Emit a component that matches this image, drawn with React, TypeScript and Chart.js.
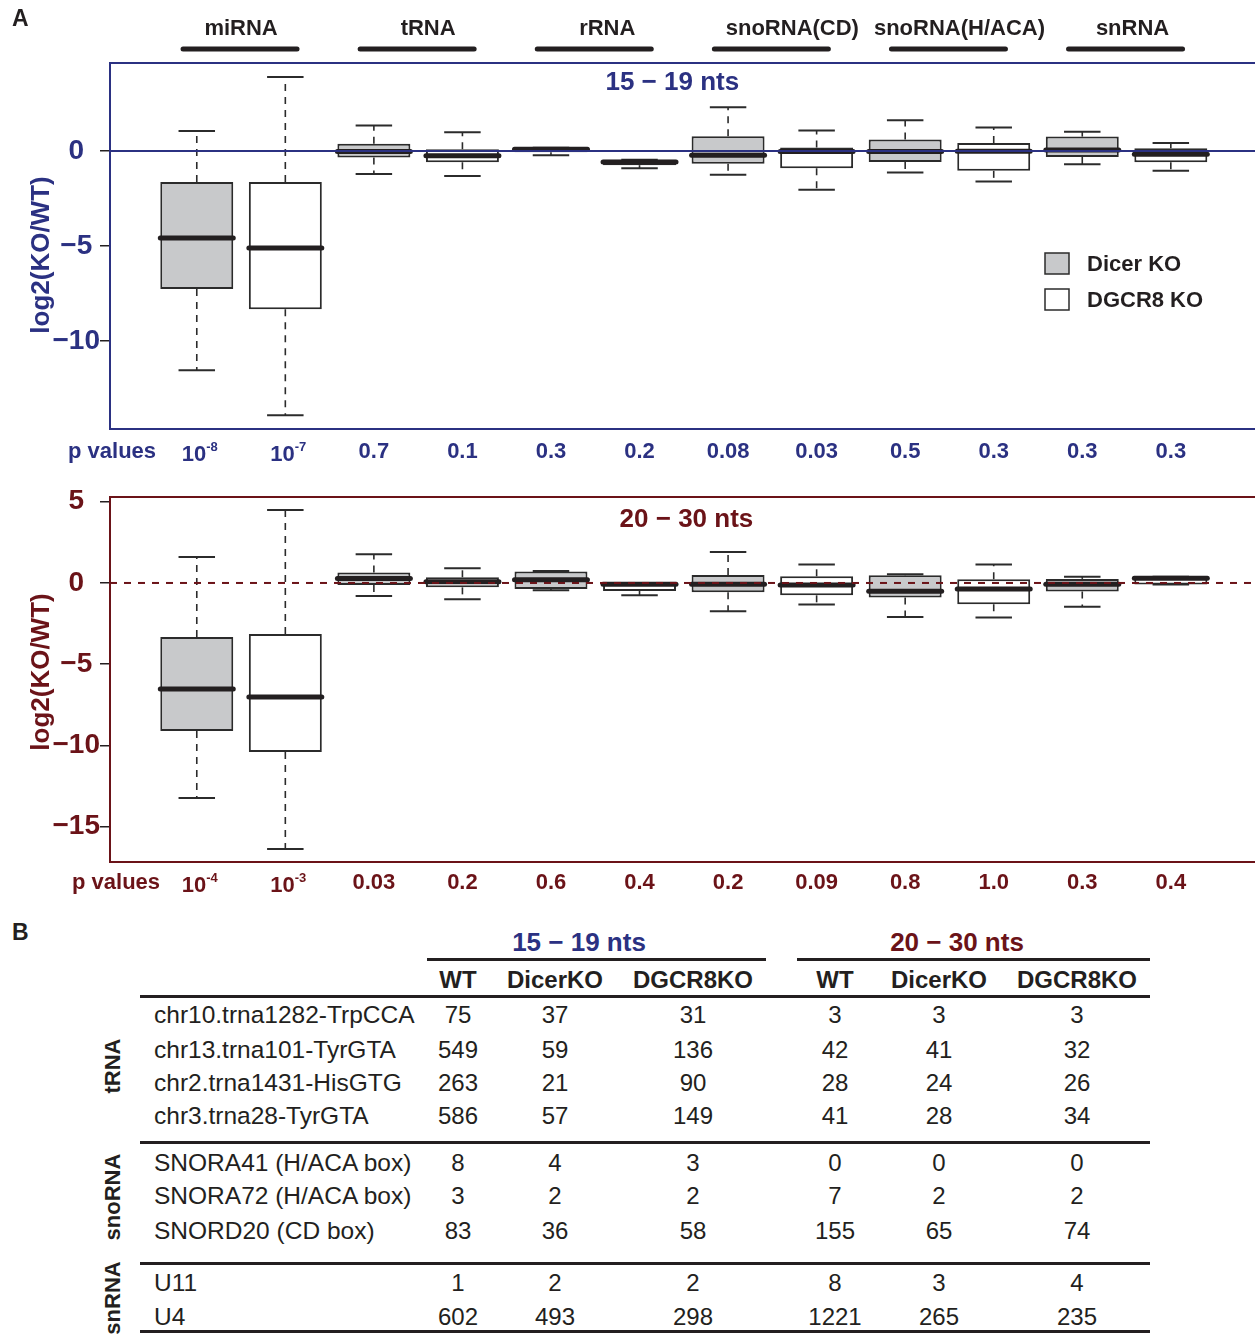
import React, { useEffect, useRef } from 'react';
import { Chart, registerables } from 'chart.js';

Chart.register(...registerables);

const FONT = "'Liberation Sans', Arial, Helvetica, sans-serif";
const NAVY = '#2b3182';
const MAROON = '#6b1318';
const INK = '#231f20';
const EDGE = '#2b2b2b';
const BOX_GRAY = '#c8c9cb';

// ---------- data ----------
const categories = ['miRNA', 'tRNA', 'rRNA', 'snoRNA(CD)', 'snoRNA(H/ACA)', 'snRNA'];
const knockouts = ['Dicer KO', 'DGCR8 KO'];

// 15 - 19 nts; order: miRNA Dicer, miRNA DGCR8, tRNA Dicer, tRNA DGCR8, ...
const shortLow = [-11.53, -13.9, -1.21, -1.32, -0.23, -0.91, -1.26, -2.04, -1.14, -1.61, -0.7, -1.04];
const shortQ1 = [-7.26, -8.32, -0.35, -0.6, -0.07, -0.75, -0.68, -0.91, -0.58, -1.05, -0.32, -0.6];
const shortMedian = [-4.58, -5.1, -0.03, -0.26, 0.08, -0.58, -0.23, -0.03, -0.03, -0.02, 0.05, -0.18];
const shortQ3 = [-1.63, -1.63, 0.37, 0.09, 0.16, -0.47, 0.77, 0.18, 0.6, 0.42, 0.75, 0.14];
const shortHigh = [1.05, 3.89, 1.33, 0.98, 0.16, -0.47, 2.3, 1.07, 1.61, 1.23, 1.0, 0.42];
const shortPValues = ['10^-8', '10^-7', '0.7', '0.1', '0.3', '0.2', '0.08', '0.03', '0.5', '0.3', '0.3', '0.3'];
const shortTicks = [-10, -5, 0];

// 20 - 30 nts
const longLow = [-13.23, -16.37, -0.8, -1.0, -0.45, -0.76, -1.74, -1.33, -2.09, -2.13, -1.46, -0.1];
const longQ1 = [-9.11, -10.4, -0.12, -0.27, -0.37, -0.49, -0.57, -0.76, -0.9, -1.31, -0.53, -0.1];
const longMedian = [-6.52, -7.02, 0.27, 0.08, 0.2, -0.08, -0.08, -0.12, -0.51, -0.37, -0.08, 0.29];
const longQ3 = [-3.32, -3.14, 0.64, 0.35, 0.7, 0.0, 0.49, 0.41, 0.47, 0.23, 0.25, 0.39];
const longHigh = [1.6, 4.49, 1.76, 0.9, 0.74, 0.0, 1.91, 1.13, 0.53, 1.13, 0.39, 0.39];
const longPValues = ['10^-4', '10^-3', '0.03', '0.2', '0.6', '0.4', '0.2', '0.09', '0.8', '1.0', '0.3', '0.4'];
const longTicks = [-15, -10, -5, 0, 5];

// table B
const rowLabels = [
  'chr10.trna1282-TrpCCA',
  'chr13.trna101-TyrGTA',
  'chr2.trna1431-HisGTG',
  'chr3.trna28-TyrGTA',
  'SNORA41 (H/ACA box)',
  'SNORA72 (H/ACA box)',
  'SNORD20 (CD box)',
  'U11',
  'U4',
];
const rowGroups = ['tRNA', 'snoRNA', 'snRNA'];
const rowGroupSizes = [4, 3, 2];
const columnHeaders = ['WT', 'DicerKO', 'DGCR8KO', 'WT', 'DicerKO', 'DGCR8KO'];
const sizeRanges = ['15 − 19 nts', '20 − 30 nts'];
const wtShort = [75, 549, 263, 586, 8, 3, 83, 1, 602];
const dicerShort = [37, 59, 21, 57, 4, 2, 36, 2, 493];
const dgcr8Short = [31, 136, 90, 149, 3, 2, 58, 2, 298];
const wtLong = [3, 42, 28, 41, 0, 7, 155, 8, 1221];
const dicerLong = [3, 41, 24, 28, 0, 2, 65, 3, 265];
const dgcr8Long = [3, 32, 26, 34, 0, 2, 74, 4, 235];

// ---------- layout ----------
const CANVAS_W = 1262;
const headerNudge = [0, 10, 12, 20, 10, 6];
const tableColX = [458, 555, 693, 835, 939, 1077];
const tableRowY = [1015, 1050, 1083, 1116, 1163, 1196, 1231, 1283, 1317];

type PanelCfg = {
  low: number[]; q1: number[]; median: number[]; q3: number[]; high: number[];
  yMin: number; yMax: number; ticks: number[];
  color: string; title: string; titleX: number; titleDy: number;
  axisTitleY: number;
  pValues: string[]; pDy: number; pLabelX: number;
  dashedZero: boolean; headers: boolean; legend: boolean;
  height: number; padTop: number; padBottom: number;
};

const fmtTick = (v: number) => (v < 0 ? '\u2212' + Math.abs(v) : String(v));

function line(ctx: CanvasRenderingContext2D, x1: number, y1: number, x2: number, y2: number) {
  ctx.beginPath();
  ctx.moveTo(x1, y1);
  ctx.lineTo(x2, y2);
  ctx.stroke();
}

function drawPValue(ctx: CanvasRenderingContext2D, label: string, cx: number, cy: number, size: number) {
  if (label.includes('^')) {
    const [base, exp] = label.split('^');
    ctx.font = `bold ${size}px ${FONT}`;
    const bw = ctx.measureText(base).width;
    ctx.font = `bold ${Math.round(size * 0.6)}px ${FONT}`;
    const ew = ctx.measureText(exp).width;
    const start = cx - (bw + ew) / 2 + 3;
    ctx.textAlign = 'left';
    ctx.font = `bold ${size}px ${FONT}`;
    ctx.fillText(base, start, cy + 3);
    ctx.font = `bold ${Math.round(size * 0.6)}px ${FONT}`;
    ctx.fillText(exp, start + bw, cy - 5);
  } else {
    ctx.textAlign = 'center';
    ctx.font = `bold ${size}px ${FONT}`;
    ctx.fillText(label, cx, cy);
  }
}

function makeExtras(cfg: PanelCfg) {
  return {
    id: 'panelExtras',
    afterDatasetsDraw(chart: any) {
      const ctx: CanvasRenderingContext2D = chart.ctx;
      const ys = chart.scales.y;
      const a = chart.chartArea;
      const meta = chart.getDatasetMeta(0);
      ctx.save();
      meta.data.forEach((bar: any, i: number) => {
        const px = bar.x;
        const w = bar.width;
        const yq1 = ys.getPixelForValue(cfg.q1[i]);
        const yq3 = ys.getPixelForValue(cfg.q3[i]);
        const ylo = ys.getPixelForValue(cfg.low[i]);
        const yhi = ys.getPixelForValue(cfg.high[i]);
        const ymed = ys.getPixelForValue(cfg.median[i]);
        ctx.strokeStyle = EDGE;
        ctx.lineCap = 'butt';
        ctx.lineWidth = 1.6;
        ctx.setLineDash([7, 6]);
        if (cfg.high[i] > cfg.q3[i]) line(ctx, px, yq3, px, yhi);
        if (cfg.low[i] < cfg.q1[i]) line(ctx, px, yq1, px, ylo);
        ctx.setLineDash([]);
        ctx.lineWidth = 2;
        line(ctx, px - w / 4, yhi, px + w / 4, yhi);
        line(ctx, px - w / 4, ylo, px + w / 4, ylo);
        ctx.strokeStyle = INK;
        ctx.lineWidth = 5;
        ctx.lineCap = 'round';
        line(ctx, px - w / 2, ymed, px + w / 2, ymed);
      });
      // reference line at 0
      const y0 = ys.getPixelForValue(0);
      ctx.lineCap = 'butt';
      ctx.strokeStyle = cfg.color;
      ctx.lineWidth = 2;
      if (cfg.dashedZero) ctx.setLineDash([7, 7]);
      line(ctx, a.left, y0, a.right, y0);
      ctx.setLineDash([]);
      // frame
      ctx.lineWidth = 2;
      ctx.strokeRect(a.left, a.top, a.right - a.left, a.bottom - a.top);
      ctx.restore();
    },
    afterDraw(chart: any) {
      const ctx: CanvasRenderingContext2D = chart.ctx;
      const xs = chart.scales.x;
      const a = chart.chartArea;
      ctx.save();
      ctx.textBaseline = 'middle';
      ctx.fillStyle = cfg.color;
      ctx.textAlign = 'center';
      ctx.font = `bold 26px ${FONT}`;
      ctx.fillText(cfg.title, xs.getPixelForValue(cfg.titleX), a.top + cfg.titleDy);
      // y axis title
      ctx.save();
      ctx.translate(42, cfg.axisTitleY);
      ctx.rotate(-Math.PI / 2);
      ctx.font = `bold 26px ${FONT}`;
      ctx.textAlign = 'center';
      ctx.fillText('log2(KO/WT)', 0, 0);
      ctx.restore();
      const py = a.bottom + cfg.pDy;
      ctx.textAlign = 'left';
      ctx.font = `bold 22px ${FONT}`;
      ctx.fillText('p values', cfg.pLabelX, py);
      cfg.pValues.forEach((p, i) => drawPValue(ctx, p, xs.getPixelForValue(i + 1), py, 22));
      if (cfg.headers) {
        ctx.fillStyle = INK;
        ctx.textAlign = 'left';
        ctx.font = `bold 23px ${FONT}`;
        ctx.fillText('A', 12, 20);
        categories.forEach((c, k) => {
          const cx = (xs.getPixelForValue(2 * k + 1) + xs.getPixelForValue(2 * k + 2)) / 2;
          ctx.textAlign = 'center';
          ctx.font = `bold 22px ${FONT}`;
          ctx.fillText(c, cx + headerNudge[k], 29);
          ctx.strokeStyle = INK;
          ctx.lineWidth = 5;
          ctx.lineCap = 'round';
          line(ctx, cx - 58, 49, cx + 56, 49);
        });
      }
      if (cfg.legend) {
        const fills = [BOX_GRAY, '#ffffff'];
        knockouts.forEach((k, i) => {
          const top = 253 + i * 36;
          ctx.fillStyle = fills[i];
          ctx.fillRect(1045, top, 24, 21);
          ctx.strokeStyle = EDGE;
          ctx.lineWidth = 1.5;
          ctx.strokeRect(1045, top, 24, 21);
          ctx.fillStyle = INK;
          ctx.textAlign = 'left';
          ctx.font = `bold 22px ${FONT}`;
          ctx.fillText(k, 1087, top + 12);
        });
      }
      ctx.restore();
    },
  };
}

function BoxPanel({ cfg, top }: { cfg: PanelCfg; top: number }) {
  const ref = useRef<HTMLCanvasElement>(null);
  useEffect(() => {
    const canvas = ref.current!;
    const data = cfg.q1.map((v, i) => ({ x: i + 1, y: [v, cfg.q3[i]] }));
    const chart = new Chart(canvas, {
      type: 'bar',
      data: {
        datasets: [
          {
            label: 'boxes',
            data: data as any,
            backgroundColor: data.map((_, i) => (i % 2 === 0 ? BOX_GRAY : '#ffffff')),
            borderColor: EDGE,
            borderWidth: 2,
            borderSkipped: false,
            categoryPercentage: 0.824,
            barPercentage: 1,
          } as any,
        ],
      },
      options: {
        responsive: false,
        animation: false,
        devicePixelRatio: 1,
        events: [],
        layout: { autoPadding: false, padding: { left: 0, right: 4.4, top: cfg.padTop, bottom: cfg.padBottom } },
        plugins: { legend: { display: false }, tooltip: { enabled: false } },
        scales: {
          x: {
            type: 'linear',
            min: 0.02,
            max: 12.98,
            display: false,
            offset: false,
            afterBuildTicks: (s: any) => {
              s.ticks = cfg.q1.map((_, i) => ({ value: i + 1 }));
            },
          },
          y: {
            type: 'linear',
            min: cfg.yMin,
            max: cfg.yMax,
            afterBuildTicks: (s: any) => {
              s.ticks = cfg.ticks.map((v) => ({ value: v }));
            },
            afterFit: (s: any) => {
              s.width = 110;
            },
            grid: { drawOnChartArea: false, drawTicks: true, tickLength: 10, color: INK, lineWidth: 1.5 },
            border: { display: false },
            ticks: {
              color: cfg.color,
              padding: 0,
              crossAlign: 'center',
              font: { family: FONT, size: 28, weight: 'bold' },
              callback: (v: any) => fmtTick(Number(v)),
            },
            title: { display: false },
          },
        },
      } as any,
      plugins: [makeExtras(cfg) as any],
    });
    return () => chart.destroy();
  }, []);
  return (
    <canvas
      ref={ref}
      width={CANVAS_W}
      height={cfg.height}
      style={{ position: 'absolute', left: 0, top, display: 'block', width: CANVAS_W, height: cfg.height }}
    />
  );
}

const shortCfg: PanelCfg = {
  low: shortLow, q1: shortQ1, median: shortMedian, q3: shortQ3, high: shortHigh,
  yMin: -14.62, yMax: 4.62, ticks: shortTicks,
  color: NAVY, title: '15 − 19 nts', titleX: 6.37, titleDy: 20, axisTitleY: 255,
  pValues: shortPValues, pDy: 23, pLabelX: 68,
  dashedZero: false, headers: true, legend: true,
  height: 470, padTop: 63, padBottom: 41,
};

const longCfg: PanelCfg = {
  low: longLow, q1: longQ1, median: longMedian, q3: longQ3, high: longHigh,
  yMin: -17.17, yMax: 5.29, ticks: longTicks,
  color: MAROON, title: '20 − 30 nts', titleX: 6.53, titleDy: 23, axisTitleY: 202,
  pValues: longPValues, pDy: 21, pLabelX: 72,
  dashedZero: true, headers: false, legend: false,
  height: 440, padTop: 27, padBottom: 48,
};

function Txt({ x, y, align = 'center', style, children }: any) {
  const tx = align === 'center' ? '-50%' : align === 'right' ? '-100%' : '0';
  return (
    <div
      style={{
        position: 'absolute',
        left: x,
        top: y,
        transform: `translate(${tx}, -50%)`,
        whiteSpace: 'nowrap',
        lineHeight: 1,
        fontFamily: FONT,
        color: INK,
        ...style,
      }}
    >
      {children}
    </div>
  );
}

function HLine({ x1, x2, y }: { x1: number; x2: number; y: number }) {
  return <div style={{ position: 'absolute', left: x1, top: y - 1.5, width: x2 - x1, height: 3, background: INK }} />;
}

function TableB() {
  const columns = [wtShort, dicerShort, dgcr8Short, wtLong, dicerLong, dgcr8Long];
  const groupStarts = rowGroupSizes.map((_, g) => rowGroupSizes.slice(0, g).reduce((s, n) => s + n, 0));
  return (
    <>
      <Txt x={12} y={932} align="left" style={{ fontWeight: 'bold', fontSize: 23 }}>B</Txt>
      <Txt x={579} y={942} style={{ fontWeight: 'bold', fontSize: 26, color: NAVY }}>{sizeRanges[0]}</Txt>
      <Txt x={957} y={942} style={{ fontWeight: 'bold', fontSize: 26, color: MAROON }}>{sizeRanges[1]}</Txt>
      <HLine x1={427} x2={766} y={959} />
      <HLine x1={797} x2={1150} y={959} />
      {columnHeaders.map((h, i) => (
        <Txt key={'h' + i} x={tableColX[i]} y={980} style={{ fontWeight: 'bold', fontSize: 24 }}>{h}</Txt>
      ))}
      <HLine x1={140} x2={1150} y={996} />
      {rowLabels.map((r, i) => (
        <Txt key={'r' + i} x={154} y={tableRowY[i]} align="left" style={{ fontSize: 24.5 }}>{r}</Txt>
      ))}
      {columns.map((col, c) =>
        col.map((v, i) => (
          <Txt key={`c${c}-${i}`} x={tableColX[c]} y={tableRowY[i]} style={{ fontSize: 24 }}>{v}</Txt>
        ))
      )}
      <HLine x1={140} x2={1150} y={1142} />
      <HLine x1={140} x2={1150} y={1263} />
      <HLine x1={140} x2={1150} y={1331} />
      {rowGroups.map((g, k) => {
        const first = tableRowY[groupStarts[k]];
        const last = tableRowY[groupStarts[k] + rowGroupSizes[k] - 1];
        const cy = (first + last) / 2 + (k === 2 ? -2 : 0);
        return (
          <div
            key={'g' + k}
            style={{
              position: 'absolute',
              left: 113,
              top: cy,
              transform: 'translate(-50%, -50%) rotate(-90deg)',
              whiteSpace: 'nowrap',
              lineHeight: 1,
              fontFamily: FONT,
              fontWeight: 'bold',
              fontSize: 22,
              color: INK,
            }}
          >
            {g}
          </div>
        );
      })}
    </>
  );
}

export default function App() {
  return (
    <div
      style={{
        position: 'absolute',
        left: 0,
        top: 0,
        width: 1255,
        height: 1334,
        overflow: 'hidden',
        background: '#ffffff',
      }}
    >
      <BoxPanel cfg={shortCfg} top={0} />
      <BoxPanel cfg={longCfg} top={470} />
      <TableB />
    </div>
  );
}
